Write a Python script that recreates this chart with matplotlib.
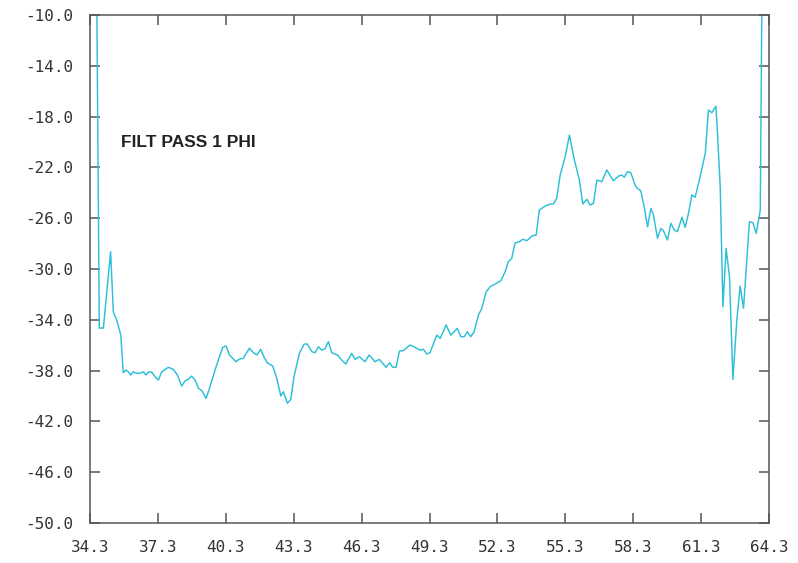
import numpy as np
import matplotlib
matplotlib.use("Agg")
import matplotlib.pyplot as plt
from matplotlib.ticker import FixedLocator, FormatStrFormatter

# filtered pass 1 phase trace
x_vals = [
    34.60, 34.71, 34.89, 35.21, 35.33, 35.48, 35.66, 35.77, 35.89, 35.99,
    36.10, 36.21, 36.36, 36.51, 36.66, 36.77, 36.89, 37.03, 37.17, 37.32,
    37.47, 37.76, 37.98, 38.16, 38.35, 38.50, 38.64, 38.79, 38.94, 39.09,
    39.24, 39.43, 39.60, 39.87, 40.16, 40.31, 40.46, 40.75, 40.90, 41.07,
    41.34, 41.52, 41.67, 41.84, 41.99, 42.13, 42.37, 42.55, 42.73, 42.84,
    43.02, 43.17, 43.31, 43.55, 43.76, 43.90, 44.10, 44.24, 44.39, 44.54,
    44.68, 44.83, 44.98, 45.23, 45.42, 45.60, 45.86, 46.01, 46.20, 46.45,
    46.63, 46.89, 47.08, 47.38, 47.53, 47.68, 47.82, 47.97, 48.14, 48.44,
    48.66, 48.88, 49.03, 49.18, 49.32, 49.62, 49.77, 50.03, 50.24, 50.53,
    50.68, 50.83, 50.97, 51.12, 51.27, 51.46, 51.61, 51.80, 51.98, 52.20,
    52.45, 52.64, 52.78, 52.93, 53.08, 53.27, 53.42, 53.60, 53.82, 54.01,
    54.15, 54.41, 54.63, 54.77, 54.92, 55.07, 55.29, 55.48, 55.69, 55.92,
    56.07, 56.25, 56.39, 56.54, 56.69, 56.91, 57.13, 57.42, 57.65, 57.80,
    57.90, 58.04, 58.19, 58.38, 58.48, 58.63, 58.78, 58.93, 59.08, 59.19,
    59.37, 59.52, 59.63, 59.81, 59.96, 60.11, 60.25, 60.45, 60.59, 60.74,
    60.89, 61.03, 61.22, 61.48, 61.62, 61.77, 61.95, 62.02, 62.14, 62.26,
    62.40, 62.55, 62.70, 62.88, 63.02, 63.17, 63.43, 63.58, 63.73, 63.91,
    63.98,
]
phi_vals = [
    -9.0, -34.65, -34.65, -28.64, -33.36, -34.02, -35.20, -38.17, -37.95, -38.09,
    -38.35, -38.09, -38.21, -38.21, -38.09, -38.35, -38.09, -38.13, -38.48, -38.74,
    -38.09, -37.74, -37.90, -38.35, -39.21, -38.80, -38.69, -38.43, -38.74, -39.39,
    -39.58, -40.18, -39.27, -37.69, -36.17, -36.06, -36.77, -37.30, -37.09, -37.03,
    -36.24, -36.59, -36.77, -36.32, -36.95, -37.38, -37.64, -38.61, -40.00, -39.66,
    -40.57, -40.26, -38.48, -36.64, -35.91, -35.91, -36.51, -36.59, -36.12, -36.38,
    -36.28, -35.72, -36.59, -36.77, -37.17, -37.48, -36.64, -37.11, -36.91, -37.30,
    -36.77, -37.30, -37.11, -37.74, -37.38, -37.74, -37.74, -36.46, -36.43, -35.98,
    -36.17, -36.38, -36.32, -36.69, -36.59, -35.20, -35.46, -34.41, -35.20, -34.67,
    -35.33, -35.33, -34.94, -35.33, -34.94, -33.62, -33.09, -31.79, -31.39, -31.18,
    -30.92, -30.21, -29.43, -29.16, -27.93, -27.85, -27.66, -27.77, -27.40, -27.32,
    -25.35, -25.04, -24.88, -24.88, -24.43, -22.60, -21.16, -19.45, -21.36, -22.99,
    -24.88, -24.51, -24.96, -24.83, -22.99, -23.13, -22.20, -23.05, -22.68, -22.60,
    -22.78, -22.34, -22.42, -23.39, -23.65, -23.83, -25.09, -26.67, -25.22, -25.75,
    -27.58, -26.80, -26.98, -27.72, -26.40, -26.93, -27.06, -25.93, -26.72, -25.61,
    -24.17, -24.35, -22.99, -20.89, -17.48, -17.69, -17.17, -19.31, -23.52, -32.97,
    -28.37, -30.61, -38.69, -33.88, -31.34, -33.09, -26.28, -26.35, -27.19, -25.35,
    -9.0,
]
x_ticks = [34.3, 37.3, 40.3, 43.3, 46.3, 49.3, 52.3, 55.3, 58.3, 61.3, 64.3]
y_ticks = [-50.0, -46.0, -42.0, -38.0, -34.0, -30.0, -26.0, -22.0, -18.0, -14.0, -10.0]
title = "FILT PASS 1 PHI"

LINE_COLOR = "#2cbfd8"
AXIS_COLOR = "#555555"
TEXT_COLOR = "#333333"

fig = plt.figure(figsize=(7.98, 5.63), dpi=100)
ax = fig.add_axes([0.1128, 0.0710, 0.851, 0.9023])

ax.plot(x_vals, phi_vals, "-", color=LINE_COLOR, lw=1.05)
ax.set_xlim(x_ticks[0], x_ticks[-1])
ax.set_ylim(y_ticks[0], y_ticks[-1])

ax.xaxis.set_major_locator(FixedLocator(x_ticks))
ax.yaxis.set_major_locator(FixedLocator(y_ticks))
ax.xaxis.set_major_formatter(FormatStrFormatter("%.1f"))
ax.yaxis.set_major_formatter(FormatStrFormatter("%.1f"))

for s in ax.spines.values():
    s.set_color(AXIS_COLOR)
    s.set_linewidth(1.1)
ax.tick_params(direction="in", length=7, width=1.1, color=AXIS_COLOR,
               top=True, right=True, labelcolor=TEXT_COLOR, labelsize=11.5)
ax.tick_params(axis="x", pad=12)
ax.tick_params(axis="y", pad=12)
for lab in ax.get_xticklabels() + ax.get_yticklabels():
    lab.set_family("DejaVu Sans Mono")

ax.text(0.046, 0.75, title, transform=ax.transAxes, ha="left", va="center",
        fontsize=12.5, fontweight="bold", family="Liberation Sans",
        color="#222222")

fig.savefig("out.png", dpi=100)
